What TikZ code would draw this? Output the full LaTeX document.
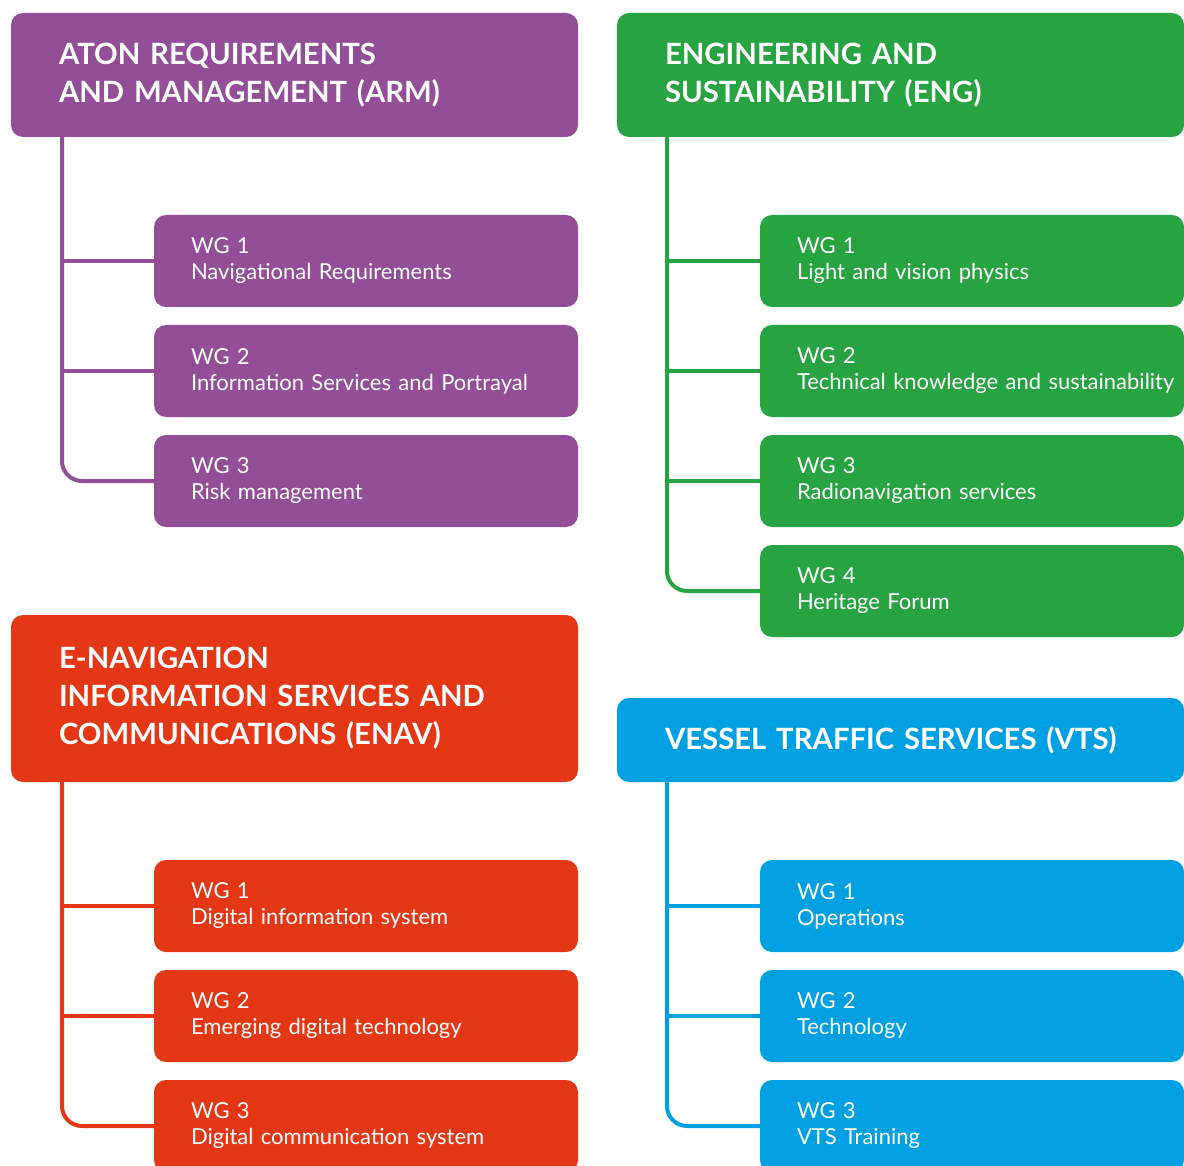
\documentclass[tikz,border=0pt]{standalone}
\usepackage{fontspec}
\setmainfont{Lato}
\usepackage{tikz}
\usetikzlibrary{positioning}

\definecolor{armPurple}{RGB}{146,78,151}
\definecolor{engGreen}{RGB}{39,163,66}
\definecolor{enavRed}{RGB}{227,55,21}
\definecolor{vtsBlue}{RGB}{0,160,227}

\begin{document}
\begin{tikzpicture}[
        x=1pt, y=-1pt,
        node distance=18pt,
        % styles
        baseBlock/.style={rectangle, rounded corners=12pt, text=white, align=left, anchor=north west, outer sep=0pt},
        headBlock/.style={baseBlock, inner xsep=48pt, inner ysep=0pt, minimum width=567pt, text width=471pt, font=\fontsize{29.3}{38}\selectfont\bfseries},
        wgBlock/.style={baseBlock, inner xsep=37pt, inner ysep=0pt, minimum width=424pt, minimum height=92pt, text width=350pt, font=\fontsize{22}{26}\selectfont},
        % committee styles
        styleArm/.style={fill=armPurple},
        styleEng/.style={fill=engGreen},
        styleEnav/.style={fill=enavRed},
        styleVts/.style={fill=vtsBlue},
        % tree lines
        tree/.style={line width=4pt, rounded corners=20pt}
    ]

    \clip (0,0) rectangle (1184,1166);

    % nodes

    % top left: ARM
    \node [headBlock, styleArm, minimum height=124pt] (arm) at (11,13) {ATON REQUIREMENTS\\AND MANAGEMENT (ARM)};
    \node [wgBlock, styleArm, anchor=north east] (armA) at ([yshift=-78pt]arm.south east) {WG 1\\Navigational Requirements};
    \node [wgBlock, styleArm, below=of armA] (armB) {WG 2\\Information Services and Portrayal};
    \node [wgBlock, styleArm, below=of armB] (armC) {WG 3\\Risk management};

    % top right: ENG
    \node [headBlock, styleEng, minimum height=124pt] (eng) at (617,13) {ENGINEERING AND\\SUSTAINABILITY (ENG)};
    \node [wgBlock, styleEng, anchor=north east] (engA) at ([yshift=-78pt]eng.south east) {WG 1\\Light and vision physics};
    \node [wgBlock, styleEng, below=of engA] (engB) {WG 2\\\mbox{Technical knowledge and sustainability}};
    \node [wgBlock, styleEng, below=of engB] (engC) {WG 3\\Radionavigation services};
    \node [wgBlock, styleEng, below=of engC] (engD) {WG 4\\Heritage Forum};

    % bottom left: ENAV
    \node [headBlock, styleEnav, minimum height=167pt] (enav) at (11,615) {E-NAVIGATION\\INFORMATION SERVICES AND\\COMMUNICATIONS (ENAV)};
    \node [wgBlock, styleEnav, anchor=north east] (enavA) at ([yshift=-78pt]enav.south east) {WG 1\\Digital information system};
    \node [wgBlock, styleEnav, below=of enavA] (enavB) {WG 2\\Emerging digital technology};
    \node [wgBlock, styleEnav, below=of enavB] (enavC) {WG 3\\Digital communication system};

    % bottom right: VTS
    \node [headBlock, styleVts, minimum height=84pt] (vts) at (617,698) {VESSEL TRAFFIC SERVICES (VTS)};
    \node [wgBlock, styleVts, anchor=north east] (vtsA) at ([yshift=-78pt]vts.south east) {WG 1\\Operations};
    \node [wgBlock, styleVts, below=of vtsA] (vtsB) {WG 2\\Technology};
    \node [wgBlock, styleVts, below=of vtsB] (vtsC) {WG 3\\VTS Training};

    % tree roots under the headers
    \coordinate (armRoot) at ([xshift=51pt]arm.south west);
    \coordinate (engRoot) at ([xshift=50pt]eng.south west);
    \coordinate (enavRoot) at ([xshift=51pt]enav.south west);
    \coordinate (vtsRoot) at ([xshift=50pt]vts.south west);

    % connections

    \draw [tree, armPurple] (armRoot) |- (armC.west);
    \draw [tree, armPurple] (armA.west) -- (armA.west -| armRoot);
    \draw [tree, armPurple] (armB.west) -- (armB.west -| armRoot);

    \draw [tree, engGreen] (engRoot) |- (engD.west);
    \draw [tree, engGreen] (engA.west) -- (engA.west -| engRoot);
    \draw [tree, engGreen] (engB.west) -- (engB.west -| engRoot);
    \draw [tree, engGreen] (engC.west) -- (engC.west -| engRoot);

    \draw [tree, enavRed] (enavRoot) |- (enavC.west);
    \draw [tree, enavRed] (enavA.west) -- (enavA.west -| enavRoot);
    \draw [tree, enavRed] (enavB.west) -- (enavB.west -| enavRoot);

    \draw [tree, vtsBlue] (vtsRoot) |- (vtsC.west);
    \draw [tree, vtsBlue] (vtsA.west) -- (vtsA.west -| vtsRoot);
    \draw [tree, vtsBlue] (vtsB.west) -- (vtsB.west -| vtsRoot);

\end{tikzpicture}
\end{document}
